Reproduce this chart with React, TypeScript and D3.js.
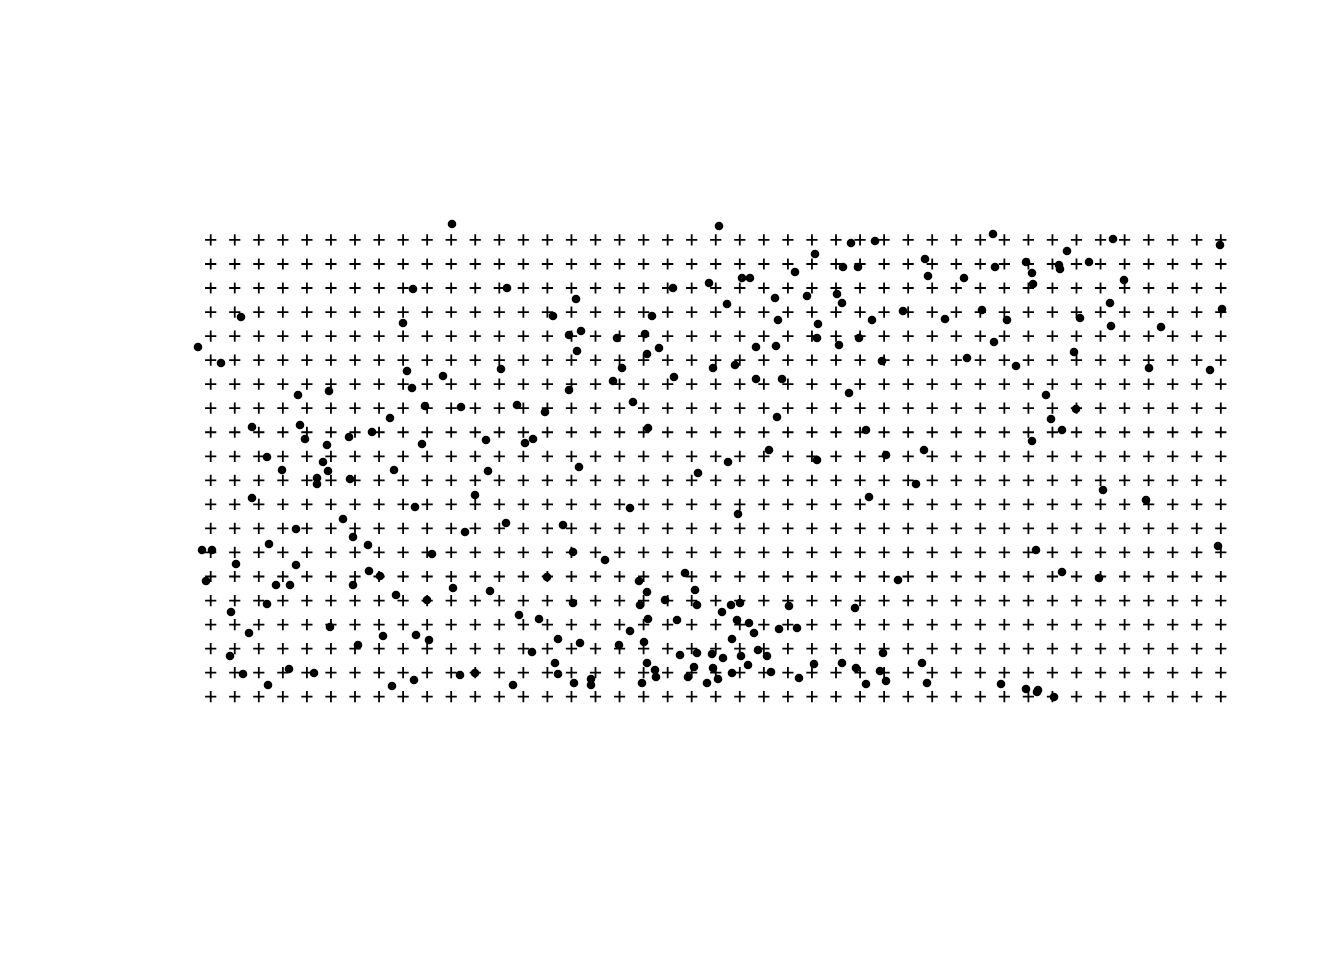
import { scaleLinear, range } from "d3";

// point pattern (window units)
const pointsX = [
    262, 223, 317, 51, 213, 8, 31, 217, 253, 311, 222, 139, 108, 235, 271, 327, 200, 62, 110, 115,
    137, 159, 182, 232, 296, 335, 343, 77, 133,
    529, 661, 685, 625, 653, 668, 605, 552, 560, 483, 519, 386, 585, 617, 647, 652, 537, 363, 462, 588,
    628, 682, 379, 391, 427, 455, 627, 669, 387, 457, 469, 566, 586, 649, 692, 432, 523, 545, 423, 484,
    566, 592, 379, 659, 443, 355, 587, 458, 676, 579, 538, 627,
    803, 923, 1030, 877, 735, 805, 836, 869, 870, 899, 842, 738, 774, 843, 934, 920, 713, 792, 1032,
    755, 817, 890, 921, 971, 804, 777, 826, 884, 959, 1020, 856, 886, 861, 872, 842, 696, 734,
    92, 138, 127, 127, 160, 204, 298, 62, 285, 225, 153, 106, 163, 275, 316, 79, 178, 12, 22, 242,
    46, 106, 179, 190, 16, 86, 100, 163, 263, 300, 206, 237, 77, 41, 329, 140, 59, 193, 226, 239,
    168, 40, 342, 53, 99, 124, 270, 285, 78, 202, 224, 323,
    389, 508, 440, 548, 679, 373, 383, 415, 357, 449, 495, 457, 505, 383, 450, 475, 507, 532, 541, 550,
    599, 665, 349, 440, 458, 487, 547, 559, 564, 589, 607, 368, 390, 429, 454, 542, 365, 368, 384, 401,
    401, 452, 457, 465, 466, 490, 507, 522, 533, 551, 568, 577, 504, 498, 523, 528, 517, 542, 558, 581,
    609, 624, 652, 666, 676, 690,
    726, 913, 956, 846, 1028, 708, 872, 909, 693, 732, 696, 737, 811, 836, 848, 847, 864,
];
const pointsY = [
    496, 431, 432, 403, 397, 373, 357, 349, 344, 351, 332, 329, 325, 314, 313, 315, 302, 293, 295, 281,
    275, 283, 288, 276, 280, 277, 281, 263, 258,
    494, 477, 479, 466, 453, 453, 448, 442, 442, 432, 437, 421, 422, 424, 426, 417, 416, 404, 404, 400,
    396, 400, 385, 389, 382, 386, 382, 382, 369, 366, 372, 373, 374, 375, 359, 352, 352, 355, 339, 343,
    341, 341, 330, 327, 318, 308, 303, 292, 290, 270, 258, 260,
    486, 481, 475, 469, 461, 453, 458, 455, 451, 458, 447, 444, 442, 436, 440, 417, 409, 410, 411,
    401, 400, 402, 394, 393, 378, 362, 354, 368, 352, 350, 325, 311, 301, 290, 279, 265, 270,
    250, 249, 242, 236, 241, 250, 249, 222, 225, 213, 201, 191, 183, 188, 197, 176, 175, 170, 170, 166,
    156, 155, 149, 144, 139, 135, 135, 135, 132, 129, 125, 120, 116, 108, 105, 93, 87, 84, 85, 80,
    75, 64, 68, 46, 51, 47, 45, 47, 35, 34, 40, 35,
    253, 247, 212, 206, 223, 195, 168, 160, 143, 139, 147, 128, 130, 117, 115, 120, 115, 108, 115, 117,
    114, 112, 101, 89, 101, 100, 100, 97, 87, 91, 92, 81, 77, 75, 78, 81, 57, 46, 37, 41,
    35, 37, 57, 50, 43, 65, 67, 66, 62, 64, 70, 64, 53, 43, 52, 41, 37, 47, 55, 48,
    42, 56, 57, 52, 36, 49,
    236, 230, 220, 170, 174, 140, 148, 142, 67, 57, 39, 37, 36, 31, 30, 28, 23,
];

// dummy (quadrature) grid
const gridCols = 43;
const gridRows = 20;
const gridOrigin = [20.7, 23.3];
const gridStep = [24.05, 24.04];

const width = 1344;
const height = 960;

export default function App() {
    const xScale = scaleLinear().domain([0, 1050]).range([190, 1240]);
    const yScale = scaleLinear().domain([0, 510]).range([720, 210]);

    const gridX = range(gridCols).map((i) => gridOrigin[0] + i * gridStep[0]);
    const gridY = range(gridRows).map((j) => gridOrigin[1] + j * gridStep[1]);
    const arm = 5.6;

    return (
        <svg
            width={width}
            height={height}
            style={{ position: "absolute", left: 0, top: 0, background: "#fff" }}
        >
            <g stroke="#000" strokeWidth={1.8} fill="none">
                {gridY.map((gy) =>
                    gridX.map((gx) => (
                        <path
                            key={`${gx}-${gy}`}
                            d={`M${xScale(gx) - arm},${yScale(gy)}H${xScale(gx) + arm}M${xScale(gx)},${yScale(gy) - arm}V${yScale(gy) + arm}`}
                        />
                    ))
                )}
            </g>
            <g fill="#000">
                {pointsX.map((px, i) => (
                    <circle key={i} cx={xScale(px)} cy={yScale(pointsY[i])} r={4.3} />
                ))}
            </g>
        </svg>
    );
}
